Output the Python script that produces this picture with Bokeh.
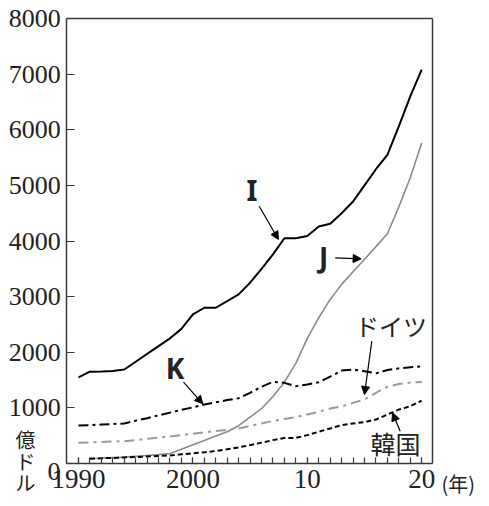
from bokeh.plotting import figure
from bokeh.models import Range1d, FixedTicker, Label, Arrow, NormalHead, LinearAxis
from bokeh.embed import file_html
from bokeh.resources import INLINE

# ---- data (億ドル) ----
years_I = list(range(1990, 2021))
vals_I = [1550, 1650, 1655, 1665, 1690, 1830, 1970, 2110, 2250, 2420,
          2680, 2800, 2800, 2920, 3040, 3250, 3500, 3760, 4050, 4050,
          4090, 4260, 4310, 4500, 4710, 5000, 5290, 5550, 6060, 6600, 7080]

years_J = list(range(1991, 2021))
vals_J = [90, 95, 105, 115, 130, 145, 160, 180, 255, 335,
          415, 495, 570, 680, 832, 985, 1205, 1462, 1800, 2250,
          2620, 2950, 3220, 3446, 3672, 3899, 4130, 4613, 5136, 5760]

years_K = list(range(1990, 2021))
vals_K = [685, 690, 700, 710, 720, 770, 815, 865, 915, 965,
          1010, 1060, 1100, 1140, 1175, 1270, 1380, 1470, 1450, 1390,
          1420, 1460, 1560, 1670, 1690, 1660, 1620, 1680, 1710, 1730, 1745]

years_DE = list(range(1990, 2021))
vals_DE = [372, 380, 388, 395, 400, 420, 445, 465, 485, 510,
           535, 560, 585, 605, 630, 675, 720, 765, 800, 835,
           880, 930, 990, 1025, 1090, 1150, 1270, 1380, 1430, 1455, 1465]

years_KR = list(range(1991, 2021))
vals_KR = [85, 95, 100, 110, 115, 125, 135, 145, 165, 185,
           200, 225, 255, 290, 330, 375, 420, 460, 460, 510,
           570, 630, 690, 720, 745, 790, 880, 970, 1030, 1130]

x_ticks = [1990, 2000, 2010, 2020]
x_tick_labels = {1990: "1990", 2000: "2000", 2010: "10", 2020: "20"}
y_ticks = [0, 1000, 2000, 3000, 4000, 5000, 6000, 7000, 8000]

# ---- layout (pixels inside the canvas) ----
W, H = 481, 497
BOX_L, BOX_R, BOX_T, BOX_B = 66.3, 432.3, 18.0, 463.0
X0, X1 = 1988.98, 2020.97          # visible box, data units
Y0, Y1 = 0, 8000
ppx = (BOX_R - BOX_L) / (X1 - X0)   # px per year
ppy = (BOX_B - BOX_T) / (Y1 - Y0)   # px per unit
xr = Range1d(X0 - BOX_L / ppx, X1 + (W - BOX_R) / ppx)
yr = Range1d(Y0 - (H - BOX_B) / ppy, Y1 + BOX_T / ppy)

AX = "#3a3a3a"
TXT = "#222222"

p = figure(width=W, height=H, output_backend="svg", toolbar_location=None,
           x_range=xr, y_range=yr, min_border=0)
p.background_fill_color = "white"
p.border_fill_color = "white"
p.outline_line_color = None
p.grid.visible = False

# axes drawn at the box edges
p.xaxis.fixed_location = Y0
p.yaxis.fixed_location = X0
p.xaxis.bounds = (X0, X1)
p.yaxis.bounds = (Y0, Y1)
p.xaxis.ticker = FixedTicker(ticks=x_ticks, minor_ticks=list(range(1990, 2021)))
p.xaxis.major_label_overrides = x_tick_labels
p.yaxis.ticker = FixedTicker(ticks=y_ticks)
p.yaxis.major_label_overrides = {0: ""}
for ax in (p.xaxis[0], p.yaxis[0]):
    ax.axis_line_color = AX
    ax.axis_line_width = 1.5
    ax.major_tick_line_color = AX
    ax.minor_tick_line_color = AX
    ax.major_tick_line_width = 1.2
    ax.minor_tick_line_width = 1.2
    ax.major_tick_out = 0
    ax.minor_tick_out = 0
    ax.major_label_text_font = "Liberation Serif"
    ax.major_label_text_color = TXT
p.xaxis.major_tick_in = 6
p.xaxis.minor_tick_in = 6
p.xaxis.major_label_text_font_size = "27px"
p.xaxis.major_label_standoff = 6
p.yaxis.major_tick_in = 8
p.yaxis.minor_tick_line_color = None
p.yaxis.major_label_text_font_size = "26px"
p.yaxis.major_label_standoff = 6

# top and right edges of the box
top = LinearAxis(fixed_location=Y1, bounds=(X0, X1), ticker=FixedTicker(ticks=[]),
                 axis_line_color=AX, axis_line_width=1.5,
                 major_tick_line_color=None, minor_tick_line_color=None,
                 major_label_text_color=None)
right = LinearAxis(fixed_location=X1, bounds=(Y0, Y1), ticker=FixedTicker(ticks=[]),
                   axis_line_color=AX, axis_line_width=1.5,
                   major_tick_line_color=None, minor_tick_line_color=None,
                   major_label_text_color=None)
p.add_layout(top, "above")
p.add_layout(right, "right")

# series
p.line(years_I, vals_I, line_color="black", line_width=2)
p.line(years_J, vals_J, line_color="#8a8a8a", line_width=1.6)
p.line(years_K, vals_K, line_color="black", line_width=2, line_dash="10 4 3 4")
p.line(years_DE, vals_DE, line_color="#9a9a9a", line_width=2, line_dash="10 5 3 5")
p.line(years_KR, vals_KR, line_color="black", line_width=2, line_dash="5 3")

def lab(x, y, t, font, size, align="center", baseline="middle", bold=False):
    p.add_layout(Label(x=x, y=y, text=t, text_font=font, text_font_size=size,
                       text_align=align, text_baseline=baseline, text_color=TXT,
                       text_font_style="bold" if bold else "normal"))

# series labels
lab(2005.17, 4908, "I", "Noto Sans", "28px", bold=True)
lab(2011.42, 3712, "J", "Noto Sans", "28px", bold=True)
lab(1998.44, 1708, "K", "Noto Sans", "28px", bold=True)
lab(2017.32, 2481, "ドイツ", "Noto Sans CJK JP", "24px")
lab(2017.71, 368, "韓国", "Noto Sans CJK JP", "25px")

# arrows
arrows = [
    (2005.80, 4626, 2007.48, 4027),
    (2012.44, 3698, 2014.71, 3680),
    (1999.18, 1462, 2000.87, 1073),
    (2015.64, 2199, 2015.00, 1240),
    (2018.12, 581, 2017.45, 911),
]
for xs, ys, xe, ye in arrows:
    p.add_layout(Arrow(x_start=xs, y_start=ys, x_end=xe, y_end=ye,
                       line_color="black", line_width=1.2,
                       end=NormalHead(size=8, fill_color="black", line_color="black")))

# axis extras: lowered zero, unit label, year marker
lab(1988.43, -135, "0", "Liberation Serif", "26px", align="right")
lab(1985.37, 431, "億", "Noto Sans CJK JP", "20px")
lab(1985.37, 36, "ド", "Noto Sans CJK JP", "20px")
lab(1985.37, -342, "ル", "Noto Sans CJK JP", "20px")
lab(2021.73, -360, "(年)", "Noto Sans CJK JP", "20px", align="left")

open("out.html", "w").write(file_html(p, INLINE))
